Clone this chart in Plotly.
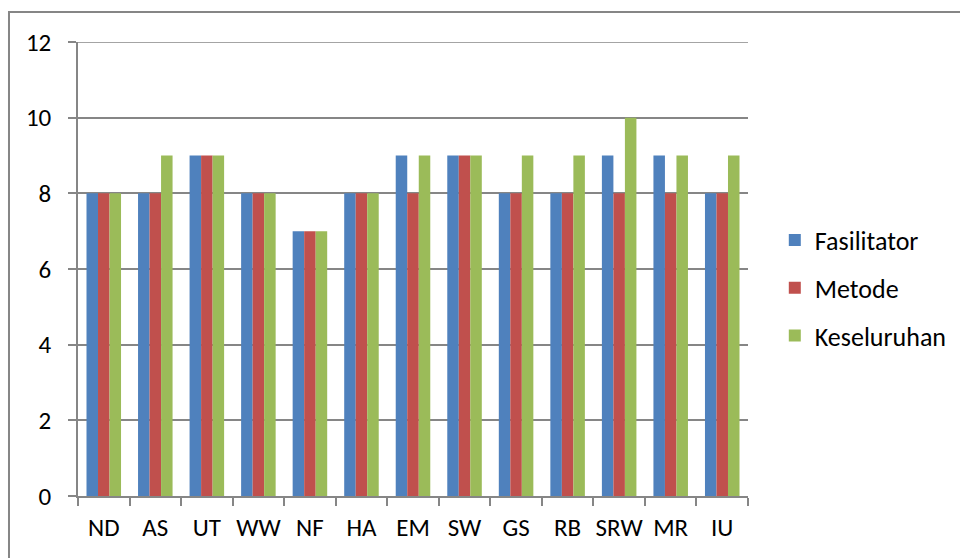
import plotly.graph_objects as go

# Participant codes and their scores per evaluation aspect
categories = ["ND", "AS", "UT", "WW", "NF", "HA", "EM", "SW", "GS", "RB", "SRW", "MR", "IU"]
fasilitator = [8, 8, 9, 8, 7, 8, 9, 9, 8, 8, 9, 9, 8]
metode = [8, 8, 9, 8, 7, 8, 8, 9, 8, 8, 8, 8, 8]
keseluruhan = [8, 9, 9, 8, 7, 8, 9, 9, 9, 9, 10, 9, 9]
y_ticks = [0, 2, 4, 6, 8, 10, 12]

series = [
    ("Fasilitator", fasilitator, "#4F81BD"),
    ("Metode", metode, "#C0504D"),
    ("Keseluruhan", keseluruhan, "#9BBB59"),
]

FONT = "Calibri, Carlito, Lato, sans-serif"
GRID = "#868686"
Y_MAX = y_ticks[-1]

fig = go.Figure()
for i, (name, vals, color) in enumerate(series):
    fig.add_trace(go.Bar(
        x=categories, y=vals, name=name,
        marker=dict(color=color, line=dict(width=0)),
        legendgroup=f"g{i}",
    ))

fig.update_layout(
    width=960, height=558,
    margin=dict(l=78, r=212, t=42, b=62, autoexpand=False),
    paper_bgcolor="white", plot_bgcolor="white",
    barmode="group", bargap=0.33, bargroupgap=0,
    font=dict(family=FONT, size=25, color="black"),
    legend=dict(
        x=1.040, xanchor="left", xref="paper", y=0.458, yanchor="middle",
        traceorder="grouped", tracegroupgap=11,
        font=dict(family=FONT, size=26, color="black"),
        itemclick=False,
    ),
    showlegend=True,
)

fig.update_xaxes(
    type="category", automargin=False, tickangle=0,
    showline=True, linecolor=GRID, linewidth=1.5,
    ticks="outside", tickson="boundaries", ticklen=8, tickcolor=GRID, tickwidth=1.5,
    showgrid=False, ticklabelstandoff=8,
    tickfont=dict(family=FONT, size=25, color="black"),
)
fig.update_yaxes(
    range=[0, Y_MAX], tickvals=y_ticks, automargin=False,
    showline=True, linecolor=GRID, linewidth=1.5,
    showgrid=True, gridcolor=GRID, gridwidth=1.5,
    ticks="outside", ticklen=8, tickcolor=GRID, tickwidth=1.5,
    zeroline=False, ticklabelstandoff=12,
    tickfont=dict(family=FONT, size=25, color="black"),
)

# Gridline at the top of the value range
fig.add_shape(
    type="line", xref="paper", yref="y",
    x0=0, x1=1, y0=Y_MAX, y1=Y_MAX,
    line=dict(color=GRID, width=1.5), layer="below",
)

# Chart frame
fig.add_shape(
    type="rect", xref="paper", yref="paper",
    x0=-0.103, x1=1.5, y0=-0.5, y1=1.066,
    line=dict(color=GRID, width=2), fillcolor="rgba(0,0,0,0)", layer="below",
)

fig.write_html("out.html")
